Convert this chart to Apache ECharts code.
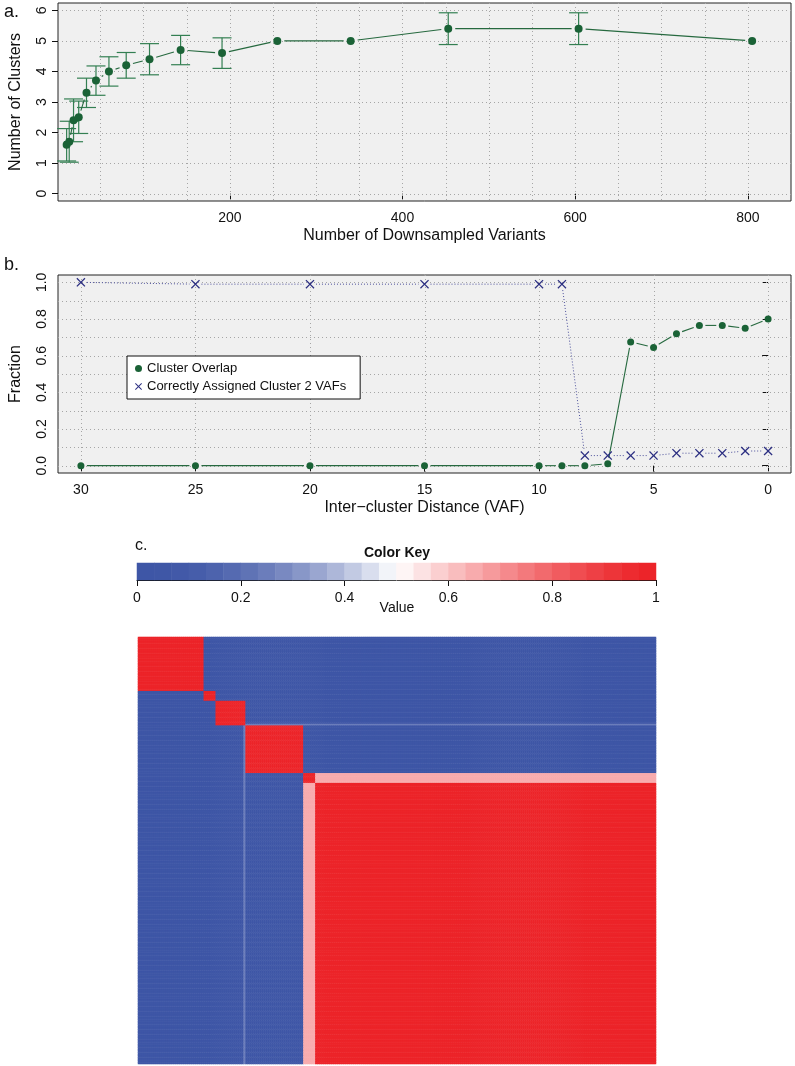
<!DOCTYPE html>
<html>
<head>
<meta charset="utf-8">
<script src="https://cdn.jsdelivr.net/npm/echarts@6/dist/echarts.min.js"></script>
<style>
html,body{margin:0;padding:0;background:#ffffff;}
#chart{width:795px;height:1066px;}
</style>
</head>
<body>
<div id="chart"></div>
<script>
// ---------------- Panel a data ----------------
const aVariants = [11, 14, 19, 25, 34, 45, 60, 80, 107, 143, 191, 255, 340, 453, 604, 805];
const aClusters = [1.6, 1.7, 2.4, 2.5, 3.3, 3.7, 4.0, 4.2, 4.4, 4.7, 4.6, 5.0, 5.0, 5.4, 5.4, 5.0];
const aErr      = [0.53, 0.67, 0.70, 0.53, 0.48, 0.48, 0.48, 0.42, 0.51, 0.48, 0.50, 0, 0, 0.52, 0.52, 0];
const aXTicks = [200, 400, 600, 800];
const aYTicks = [0, 1, 2, 3, 4, 5, 6];
const aXGrid  = [50, 100, 150, 200, 250, 300, 350, 400, 450, 500, 550, 600, 650, 700, 750, 800];

// ---------------- Panel b data ----------------
const bDistance = [30, 25, 20, 15, 10, 9, 8, 7, 6, 5, 4, 3, 2, 1, 0];
const bOverlap  = [0, 0, 0, 0, 0, 0, 0, 0.01, 0.675, 0.645, 0.72, 0.765, 0.765, 0.75, 0.80];
const bAssigned = [1.0, 0.99, 0.99, 0.99, 0.99, 0.99, 0.055, 0.055, 0.055, 0.055, 0.068, 0.068, 0.068, 0.08, 0.08];
const bXTicks = [30, 25, 20, 15, 10, 5, 0];
const bYTicks = [0, 0.2, 0.4, 0.6, 0.8, 1.0];
const bYGrid  = [0, 0.1, 0.2, 0.3, 0.4, 0.5, 0.6, 0.7, 0.8, 0.9, 1.0];

// ---------------- Panel c data ----------------
const keyTicks = [0, 0.2, 0.4, 0.6, 0.8, 1];
const keyBinCount = 30;
const clusterSizes = [33, 6, 14, 1, 29, 6, 171];
const blockValues = [
  [1, 0, 0, 0,    0,    0,    0   ],
  [0, 1, 0, 0,    0,    0,    0   ],
  [0, 0, 1, 1,    0,    0,    0   ],
  [0, 0, 1, 1,    0.25, 0.25, 0.25],
  [0, 0, 0, 0.25, 1,    0,    0   ],
  [0, 0, 0, 0.25, 0,    1,    0.65],
  [0, 0, 0, 0.25, 0,    0.65, 1   ]
];

// ---------------- styles ----------------
const FONT = "'Liberation Sans', Arial, Helvetica, sans-serif";
const TXT = '#111111';
const BG = '#f0f0f0';
const GRIDC = '#a6a6a6';
const GREEN = '#1a6236';
const GREEN_LINE = '#26693f';
const ERRC = '#337f52';
const NAVY = '#2c2f82';
const NAVY_LINE = '#4a4e9a';
const XPATH = 'path://M0,1 L1,0 L5,4 L9,0 L10,1 L6,5 L10,9 L9,10 L5,6 L1,10 L0,9 L4,5 Z';
const BLUE = [62, 86, 166], RED = [236, 36, 41];

function keyColor(t) {
  let c, w;
  if (t < 0.5) { const a = (0.5 - t) / 0.5; w = 1 - Math.pow(1 - a, 2); c = BLUE; }
  else { const a = (t - 0.5) / 0.5; w = 1 - Math.pow(1 - a, 1.3); c = RED; }
  return 'rgb(' + [0, 1, 2].map(k => Math.round(255 + (c[k] - 255) * w)).join(',') + ')';
}
const keyColors = [];
for (let i = 0; i < keyBinCount; i++) keyColors.push(keyColor(i / (keyBinCount - 1)));
const pieces = keyColors.map((col, i) => i === keyBinCount - 1
  ? { gte: i / keyBinCount, lte: 1, color: col }
  : { gte: i / keyBinCount, lt: (i + 1) / keyBinCount, color: col });

// ---------------- helpers ----------------
function vGrid(xi, yi, xs, yRef) {
  return {
    type: 'custom', xAxisIndex: xi, yAxisIndex: yi, z: 1, silent: true, clip: false,
    data: xs.map(v => [v, yRef]),
    renderItem(params, api) {
      const cs = params.coordSys;
      const x = Math.round(api.coord([api.value(0), api.value(1)])[0]) + 0.5;
      return { type: 'line', shape: { x1: x, y1: cs.y, x2: x, y2: cs.y + cs.height },
        style: { stroke: GRIDC, lineWidth: 1, lineDash: [1, 3] } };
    }
  };
}
function hGrid(xi, yi, ys, xRef) {
  return {
    type: 'custom', xAxisIndex: xi, yAxisIndex: yi, z: 1, silent: true, clip: false,
    data: ys.map(v => [xRef, v]),
    renderItem(params, api) {
      const cs = params.coordSys;
      const y = Math.round(api.coord([api.value(0), api.value(1)])[1]) + 0.5;
      return { type: 'line', shape: { x1: cs.x, y1: y, x2: cs.x + cs.width, y2: y },
        style: { stroke: GRIDC, lineWidth: 1, lineDash: [1, 3] } };
    }
  };
}
function segments(xi, yi, xs, ys, color, dash, gap, width) {
  const data = [];
  for (let i = 0; i < xs.length - 1; i++) data.push([xs[i], ys[i], xs[i + 1], ys[i + 1]]);
  return {
    type: 'custom', xAxisIndex: xi, yAxisIndex: yi, z: 3, silent: true,
    encode: { x: [0, 2], y: [1, 3] },
    data,
    renderItem(params, api) {
      const p1 = api.coord([api.value(0), api.value(1)]);
      const p2 = api.coord([api.value(2), api.value(3)]);
      const dx = p2[0] - p1[0], dy = p2[1] - p1[1], len = Math.hypot(dx, dy);
      if (len <= 2 * gap + 1) return null;
      const ux = dx / len, uy = dy / len;
      return { type: 'line',
        shape: { x1: p1[0] + ux * gap, y1: p1[1] + uy * gap, x2: p2[0] - ux * gap, y2: p2[1] - uy * gap },
        style: { stroke: color, lineWidth: width, lineDash: dash } };
    }
  };
}

// ---------------- heatmap table ----------------
const N = clusterSizes.reduce((a, b) => a + b, 0);
const itemCluster = [];
clusterSizes.forEach((s, c) => { for (let k = 0; k < s; k++) itemCluster.push(c); });
const itemNames = itemCluster.map((c, i) => 'v' + i);
const heatData = [];
for (let r = 0; r < N; r++) for (let c = 0; c < N; c++)
  heatData.push([c, r, blockValues[itemCluster[r]][itemCluster[c]]]);
const keyCats = [];
const keyData = [];
for (let i = 0; i < keyBinCount; i++) { keyCats.push('k' + i); keyData.push([i, 0, (i + 0.5) / keyBinCount]); }

const axisText = { fontFamily: FONT, fontSize: 14, color: TXT };
const nameText = { fontFamily: FONT, fontSize: 16, color: TXT };

const option = {
  animation: false,
  backgroundColor: '#ffffff',
  textStyle: { fontFamily: FONT },
  grid: [
    { left: 54, top: 3, width: 737, height: 198, show: true, backgroundColor: BG, borderColor: '#222', borderWidth: 1 },
    { left: 54, top: 275, width: 737, height: 198, show: true, backgroundColor: BG, borderColor: '#222', borderWidth: 1 },
    { left: 137, top: 563, width: 519, height: 17 },
    { left: 138, top: 637, width: 518, height: 427 }
  ],
  xAxis: [
    { type: 'value', gridIndex: 0, min: 1, max: 850,
      axisLine: { show: false },
      axisTick: { show: true, length: 6, customValues: aXTicks, lineStyle: { color: TXT } },
      axisLabel: Object.assign({ customValues: aXTicks, margin: 10 }, axisText),
      splitLine: { show: false },
      name: 'Number of Downsampled Variants', nameLocation: 'middle', nameGap: 27, nameTextStyle: nameText },
    { type: 'value', gridIndex: 1, min: -1, max: 31, inverse: true,
      axisLine: { show: false },
      axisTick: { show: true, length: 6, customValues: bXTicks, lineStyle: { color: TXT } },
      axisLabel: Object.assign({ customValues: bXTicks, margin: 10 }, axisText),
      splitLine: { show: false },
      name: 'Inter\u2212cluster Distance (VAF)', nameLocation: 'middle', nameGap: 27, nameTextStyle: nameText },
    { type: 'category', gridIndex: 2, data: keyCats, show: false },
    { type: 'value', gridIndex: 2, min: 0, max: 1, position: 'bottom',
      axisLine: { show: true, lineStyle: { color: TXT, width: 1 } },
      axisTick: { show: true, length: 6, customValues: keyTicks, lineStyle: { color: TXT } },
      axisLabel: Object.assign({ customValues: keyTicks, margin: 11 }, axisText),
      splitLine: { show: false } },
    { type: 'category', gridIndex: 3, data: itemNames, show: false }
  ],
  yAxis: [
    { type: 'value', gridIndex: 0, min: -0.24, max: 6.24,
      axisLine: { show: false },
      axisTick: { show: true, length: 6, customValues: aYTicks, lineStyle: { color: TXT } },
      axisLabel: Object.assign({ customValues: aYTicks, margin: 9, rotate: 90 }, axisText),
      splitLine: { show: false },
      name: 'Number of Clusters', nameLocation: 'middle', nameRotate: 90, nameGap: 34, nameTextStyle: nameText },
    { type: 'value', gridIndex: 1, min: -0.04, max: 1.04,
      axisLine: { show: false },
      axisTick: { show: true, length: 6, customValues: bYTicks, lineStyle: { color: TXT } },
      axisLabel: Object.assign({ customValues: bYTicks, margin: 9, rotate: 90, formatter: v => Number(v).toFixed(1) }, axisText),
      splitLine: { show: false },
      name: 'Fraction', nameLocation: 'middle', nameRotate: 90, nameGap: 34, nameTextStyle: nameText },
    { type: 'category', gridIndex: 2, data: ['key'], show: false },
    { type: 'category', gridIndex: 3, data: itemNames, inverse: true, show: false }
  ],
  visualMap: {
    type: 'piecewise', show: false, dimension: 2, seriesIndex: [11, 12], pieces: pieces
  },
  legend: {
    orient: 'vertical', left: 127, top: 356,
    data: [{ name: 'Cluster Overlap', icon: 'circle' }, { name: 'Correctly Assigned Cluster 2 VAFs', icon: XPATH }],
    itemWidth: 7, itemHeight: 7, itemGap: 5, padding: [6, 14, 6, 8],
    backgroundColor: '#ffffff', borderColor: '#111', borderWidth: 1, borderRadius: 0,
    textStyle: { fontFamily: FONT, fontSize: 13, color: TXT },
    selectedMode: false
  },
  graphic: [
    { type: 'text', x: 4, y: 12, style: { text: 'a.', font: '18px ' + FONT, fill: TXT, textAlign: 'left', textVerticalAlign: 'middle', align: 'left', verticalAlign: 'middle' } },
    { type: 'text', x: 4, y: 265, style: { text: 'b.', font: '18px ' + FONT, fill: TXT, textAlign: 'left', textVerticalAlign: 'middle', align: 'left', verticalAlign: 'middle' } },
    { type: 'text', x: 135, y: 546, style: { text: 'c.', font: '16px ' + FONT, fill: TXT, textAlign: 'left', textVerticalAlign: 'middle', align: 'left', verticalAlign: 'middle' } },
    { type: 'text', x: 397, y: 553, style: { text: 'Color Key', font: 'bold 14px ' + FONT, fill: TXT, textAlign: 'center', textVerticalAlign: 'middle', align: 'center', verticalAlign: 'middle' } },
    { type: 'text', x: 397, y: 608, style: { text: 'Value', font: '14px ' + FONT, fill: TXT, textAlign: 'center', textVerticalAlign: 'middle', align: 'center', verticalAlign: 'middle' } }
  ],
  series: [
    // 0,1 panel a grid
    vGrid(0, 0, aXGrid, 0),
    hGrid(0, 0, aYTicks, 1),
    // 2 error bars
    {
      type: 'custom', xAxisIndex: 0, yAxisIndex: 0, z: 2, silent: true,
      encode: { x: 0, y: [1, 2] },
      data: aVariants.map((x, i) => [x, aClusters[i] - aErr[i], aClusters[i] + aErr[i]]),
      renderItem(params, api) {
        const x = api.value(0), lo = api.value(1), hi = api.value(2);
        if (!(hi > lo)) return null;
        const p1 = api.coord([x, lo]), p2 = api.coord([x, hi]);
        const w = 9.5, st = { stroke: ERRC, lineWidth: 1.2 };
        return { type: 'group', children: [
          { type: 'line', shape: { x1: p1[0], y1: p1[1], x2: p2[0], y2: p2[1] }, style: st },
          { type: 'line', shape: { x1: p1[0] - w, y1: p1[1], x2: p1[0] + w, y2: p1[1] }, style: st },
          { type: 'line', shape: { x1: p2[0] - w, y1: p2[1], x2: p2[0] + w, y2: p2[1] }, style: st }
        ] };
      }
    },
    // 3 connecting segments
    segments(0, 0, aVariants, aClusters, GREEN_LINE, null, 7, 1.1),
    // 4 points
    { type: 'scatter', xAxisIndex: 0, yAxisIndex: 0, z: 4, silent: true, symbol: 'circle', symbolSize: 8,
      itemStyle: { color: GREEN, opacity: 1 }, data: aVariants.map((x, i) => [x, aClusters[i]]) },
    // 5,6 panel b grid
    vGrid(1, 1, bXTicks, 0),
    hGrid(1, 1, bYGrid, 0),
    // 7,8 segments
    segments(1, 1, bDistance, bOverlap, GREEN_LINE, null, 6, 1.1),
    segments(1, 1, bDistance, bAssigned, NAVY_LINE, [1, 2], 6, 1),
    // 9,10 markers
    { name: 'Cluster Overlap', type: 'scatter', xAxisIndex: 1, yAxisIndex: 1, z: 4, silent: true,
      symbol: 'circle', symbolSize: 7, itemStyle: { color: GREEN, opacity: 1 },
      data: bDistance.map((x, i) => [x, bOverlap[i]]) },
    { name: 'Correctly Assigned Cluster 2 VAFs', type: 'scatter', xAxisIndex: 1, yAxisIndex: 1, z: 4, silent: true,
      symbol: XPATH, symbolSize: 9, itemStyle: { color: NAVY, opacity: 1 },
      data: bDistance.map((x, i) => [x, bAssigned[i]]) },
    // 11 color key
    { type: 'heatmap', xAxisIndex: 2, yAxisIndex: 2, data: keyData, silent: true, progressive: 0,
      itemStyle: { borderWidth: 0 }, emphasis: { disabled: true } },
    // 12 main heatmap
    { type: 'heatmap', xAxisIndex: 4, yAxisIndex: 3, data: heatData, silent: true, progressive: 0,
      itemStyle: { borderWidth: 0 }, emphasis: { disabled: true } }
  ]
};

const chart = echarts.init(document.getElementById('chart'), null, { renderer: 'canvas' });
chart.setOption(option);
</script>
</body>
</html>
